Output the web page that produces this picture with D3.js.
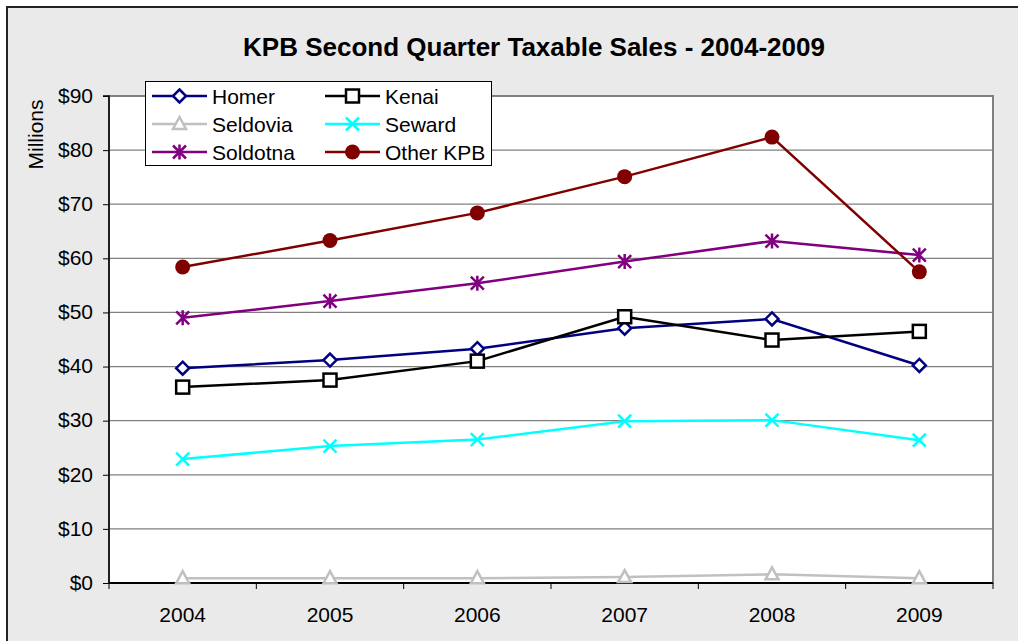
<!DOCTYPE html>
<html><head><meta charset="utf-8">
<script src="https://cdn.jsdelivr.net/npm/d3@7"></script>
<style>
html,body{margin:0;padding:0;background:#fff;}
svg{display:block;font-family:"Liberation Sans",Arial,sans-serif;}
</style></head>
<body>
<svg id="chart" width="1018" height="641"></svg>
<script>
const years = ["2004","2005","2006","2007","2008","2009"];
const yTicks = [0,10,20,30,40,50,60,70,80,90];
const homer    = [39.7, 41.2, 43.3, 47.1, 48.8, 40.2];
const kenai    = [36.2, 37.5, 41.0, 49.2, 44.9, 46.5];
const seldovia = [0.9, 0.9, 0.9, 1.1, 1.6, 0.9];
const seward   = [22.9, 25.3, 26.5, 29.9, 30.1, 26.4];
const soldotna = [49.0, 52.1, 55.4, 59.4, 63.2, 60.6];
const otherKPB = [58.4, 63.3, 68.4, 75.1, 82.4, 57.5];
const seriesNames = ["Homer","Kenai","Seldovia","Seward","Soldotna","Other KPB"];

const series = [
  {name: seriesNames[0], values: homer,    color: "#000080", marker: "diamond"},
  {name: seriesNames[1], values: kenai,    color: "#000000", marker: "square"},
  {name: seriesNames[2], values: seldovia, color: "#c0c0c0", marker: "triangle"},
  {name: seriesNames[3], values: seward,   color: "#00ffff", marker: "x"},
  {name: seriesNames[4], values: soldotna, color: "#800080", marker: "star"},
  {name: seriesNames[5], values: otherKPB, color: "#800000", marker: "circle"}
];

const svg = d3.select("#chart");
const L = 109, R = 993, T = 96, B = 583;
const FS = 21;

// outer chart area
svg.append("rect").attr("x", 7).attr("y", 7).attr("width", 1030).attr("height", 660)
  .attr("fill", "#eaeaea").attr("stroke", "#222").attr("stroke-width", 2);

// plot area
svg.append("rect").attr("x", L).attr("y", T).attr("width", R - L).attr("height", B - T)
  .attr("fill", "#fff").attr("stroke", "#808080").attr("stroke-width", 2);

const x = d3.scaleBand().domain(years).range([L, R]).padding(0);
const y = d3.scaleLinear().domain([0, 90]).range([B, T]);
const cx = d => x(d) + x.bandwidth() / 2;

// gridlines
svg.append("g").selectAll("line").data(yTicks.filter(t => t > 0)).join("line")
  .attr("x1", L).attr("x2", R).attr("y1", d => y(d)).attr("y2", d => y(d))
  .attr("stroke", "#808080").attr("stroke-width", 1.2);

// y axis
const yAxis = d3.axisLeft(y).tickValues(yTicks).tickSize(6).tickPadding(10)
  .tickFormat(d => "$" + d);
const gy = svg.append("g").attr("transform", `translate(${L},0)`).call(yAxis);
gy.select(".domain").attr("stroke", "#000").attr("stroke-width", 1.5).attr("d", `M-6,${T}H0V${B}`);
gy.selectAll(".tick line").attr("stroke", "#000");
gy.selectAll("text").attr("font-size", FS).attr("fill", "#000").attr("x", -16).attr("dy", "0.3em")
  .attr("font-family", "Liberation Sans, Arial, sans-serif");

// x axis
const gx = svg.append("g").attr("transform", `translate(0,${B})`);
gx.append("line").attr("x1", L).attr("x2", R).attr("y1", 0).attr("y2", 0)
  .attr("stroke", "#000").attr("stroke-width", 2);
const bounds = years.map(d => x(d)).concat([R]);
gx.selectAll(".bt").data(bounds).join("line").attr("class", "bt")
  .attr("x1", d => d).attr("x2", d => d).attr("y1", 0).attr("y2", 6)
  .attr("stroke", "#000").attr("stroke-width", 1);
gx.selectAll(".xl").data(years).join("text").attr("class", "xl")
  .attr("x", d => cx(d)).attr("y", 39).attr("text-anchor", "middle")
  .attr("font-size", FS).attr("fill", "#000").text(d => d);

// y title
svg.append("text").attr("transform", "translate(43,134.5) rotate(-90)")
  .attr("text-anchor", "middle").attr("font-size", FS).attr("fill", "#000").text("Millions");

// title
svg.append("text").attr("x", 534).attr("y", 56).attr("text-anchor", "middle")
  .attr("font-size", 26).attr("font-weight", "bold").attr("fill", "#000")
  .text("KPB Second Quarter Taxable Sales - 2004-2009");

function drawMarker(g, type, color, px, py) {
  const sw = 2.5;
  if (type === "diamond") {
    g.append("path").attr("d", `M${px},${py-6.5}L${px+6.5},${py}L${px},${py+6.5}L${px-6.5},${py}Z`)
      .attr("fill", "#fff").attr("stroke", color).attr("stroke-width", sw);
  } else if (type === "square") {
    g.append("rect").attr("x", px-6.5).attr("y", py-6.5).attr("width", 13).attr("height", 13)
      .attr("fill", "#fff").attr("stroke", color).attr("stroke-width", sw);
  } else if (type === "triangle") {
    g.append("path").attr("d", `M${px},${py-7}L${px+6.5},${py+5}L${px-6.5},${py+5}Z`)
      .attr("fill", "#fff").attr("stroke", color).attr("stroke-width", sw);
  } else if (type === "x") {
    g.append("path").attr("d", `M${px-6.5},${py-6.5}L${px+6.5},${py+6.5}M${px-6.5},${py+6.5}L${px+6.5},${py-6.5}`)
      .attr("stroke", color).attr("stroke-width", sw);
  } else if (type === "star") {
    g.append("path").attr("d", `M${px-6.5},${py-6.5}L${px+6.5},${py+6.5}M${px-6.5},${py+6.5}L${px+6.5},${py-6.5}M${px},${py-7.5}V${py+7.5}`)
      .attr("stroke", color).attr("stroke-width", sw);
  } else if (type === "circle") {
    g.append("circle").attr("cx", px).attr("cy", py).attr("r", 7.5).attr("fill", color);
  }
}

const line = d3.line().x((d, i) => cx(years[i])).y(d => y(d));
series.forEach(s => {
  const g = svg.append("g");
  g.append("path").datum(s.values).attr("d", line).attr("fill", "none")
    .attr("stroke", s.color).attr("stroke-width", 2.5);
  s.values.forEach((v, i) => drawMarker(g, s.marker, s.color, cx(years[i]), y(v)));
});

// legend
const lg = svg.append("g");
lg.append("rect").attr("x", 145.5).attr("y", 81.5).attr("width", 346).attr("height", 84)
  .attr("fill", "#fff").attr("stroke", "#000").attr("stroke-width", 1);
series.forEach((s, k) => {
  const col = k % 2, row = Math.floor(k / 2);
  const x0 = col === 0 ? 152 : 325;
  const yy = 96 + row * 28;
  lg.append("line").attr("x1", x0).attr("x2", x0 + 55).attr("y1", yy).attr("y2", yy)
    .attr("stroke", s.color).attr("stroke-width", 2.5);
  drawMarker(lg, s.marker, s.color, x0 + 27.5, yy);
  lg.append("text").attr("x", x0 + 60).attr("y", yy + 7.5).attr("font-size", FS)
    .attr("fill", "#000").text(s.name);
});
</script>
</body></html>
